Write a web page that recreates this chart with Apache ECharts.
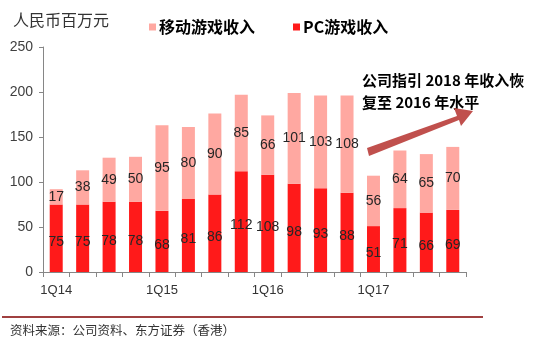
<!DOCTYPE html>
<html>
<head>
<meta charset="utf-8">
<script src="https://cdn.jsdelivr.net/npm/echarts@6/dist/echarts.min.js"></script>
<style>
html,body{margin:0;padding:0;background:#fff;}
#c{width:541px;height:343px;}
</style>
</head>
<body>
<div id="c"></div>
<script>
const categories = ['1Q14','2Q14','3Q14','4Q14','1Q15','2Q15','3Q15','4Q15','1Q16','2Q16','3Q16','4Q16','1Q17','2Q17','3Q17','4Q17'];
const pcRevenue = [75,75,78,78,68,81,86,112,108,98,93,88,51,71,66,69];
const mobileRevenue = [17,38,49,50,95,80,90,85,66,101,103,108,56,64,65,70];
const yTicks = [0,50,100,150,200,250];
const shownLabels = ['1Q14','1Q15','1Q16','1Q17'];

const chart = echarts.init(document.getElementById('c'));
const labelStyle = {
  show: true, position: 'inside', color: '#262626', fontSize: 14,
  fontFamily: 'Liberation Sans Narrow, Liberation Sans, Arial, sans-serif'
};
chart.setOption({
  animation: false,
  grid: {left: 43, right: 75, top: 47, bottom: 71},
  legend: {
    left: 144, top: 14, itemWidth: 7, itemHeight: 7, itemGap: 38,
    icon: 'rect',
    data: ['移动游戏收入','PC游戏收入'],
    textStyle: {fontSize: 16, fontWeight: 'bold', color: '#000', fontFamily: 'Noto Sans CJK SC, sans-serif', padding: [0,0,0,-2]}
  },
  xAxis: {
    type: 'category', data: categories,
    axisLine: {lineStyle: {color: '#868686'}},
    axisTick: {show: true, interval: 0, length: 5, lineStyle: {color: '#868686'}},
    axisLabel: {
      interval: 0, color: '#333', fontSize: 13, margin: 12,
      fontFamily: 'Liberation Sans, Arial, sans-serif',
      formatter: v => shownLabels.includes(v) ? v : ''
    }
  },
  yAxis: {
    type: 'value', min: yTicks[0], max: yTicks[yTicks.length-1], interval: 50,
    axisLine: {show: true, lineStyle: {color: '#868686'}},
    axisTick: {show: true, length: 4, lineStyle: {color: '#868686'}},
    splitLine: {show: false},
    axisLabel: {color: '#404040', fontSize: 14, margin: 10, fontFamily: 'Liberation Sans, Arial, sans-serif'}
  },
  series: [
    {name: 'PC游戏收入', type: 'bar', stack: 'rev', data: pcRevenue, barWidth: 13,
     itemStyle: {color: '#FF1A1A'}, label: Object.assign({}, labelStyle, {offset: [0, 4]})},
    {name: '移动游戏收入', type: 'bar', stack: 'rev', data: mobileRevenue, barWidth: 13,
     itemStyle: {color: '#FFA8A1'}, label: labelStyle}
  ],
  graphic: [
    {type: 'text', left: 13, top: 12, style: {text: '人民币百万元', fontSize: 16, fill: '#333', fontFamily: 'Noto Sans CJK SC, sans-serif'}},
    {type: 'text', left: 362, top: 69, style: {text: '公司指引 2018 年收入恢\n复至 2016 年水平', fontSize: 15, fontWeight: 'bold', lineHeight: 22, fill: '#000', fontFamily: 'Noto Sans CJK SC, sans-serif'}},
    {type: 'polygon', shape: {points: [[367,148],[457,116],[454,108],[473,111],[461,126],[459,120],[369,156]]}, style: {fill: '#C0504D'}},
    {type: 'line', shape: {x1: 2, y1: 317, x2: 483, y2: 317}, style: {stroke: '#800000', lineWidth: 1.5}},
    {type: 'text', left: 10, top: 324, style: {text: '资料来源：公司资料、东方证券（香港）', fontSize: 12.5, fill: '#333', fontFamily: 'Noto Sans CJK SC, sans-serif'}}
  ]
});
</script>
</body>
</html>
